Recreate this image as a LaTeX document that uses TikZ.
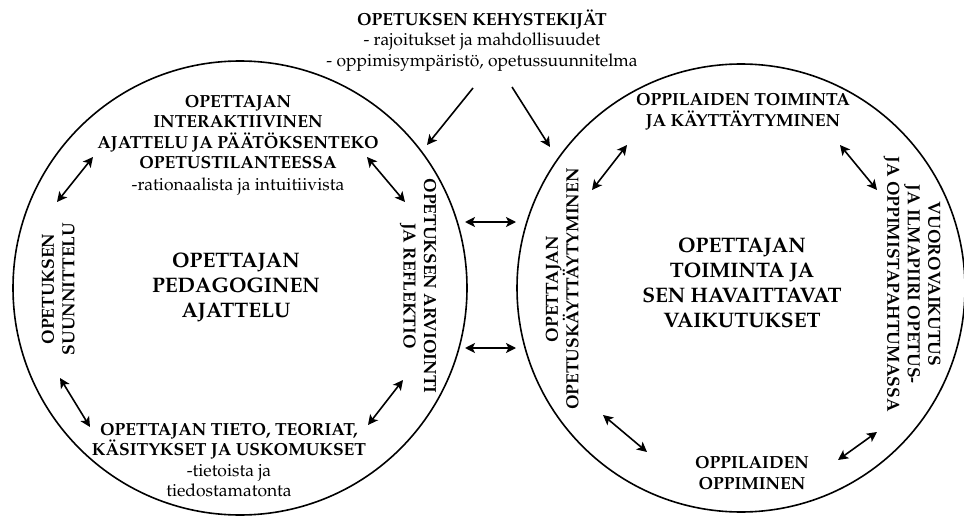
\documentclass[tikz,border=0pt]{standalone}
\usepackage[T1]{fontenc}
\usepackage{mathpazo}
\usetikzlibrary{arrows.meta}
\tikzset{
  ring/.style={circle, draw, line width=1.6pt, inner sep=0pt},
  bt/.style={align=center, inner sep=0pt, font=\fontsize{17.5}{20.5}\selectfont\bfseries},
  bigt/.style={align=center, inner sep=0pt, font=\fontsize{21}{25}\selectfont\bfseries},
  tip/.tip={Stealth[length=10pt,width=10pt,inset=2.5pt]},
  dbl/.style={line width=1.6pt, tip-tip},
  sgl/.style={line width=1.6pt, -tip}
}
\begin{document}
\begin{tikzpicture}[x=1pt,y=-1pt]
\useasboundingbox (0,0) rectangle (964,516);
% circles
\node[ring, minimum size=454pt] (lc) at (240,288) {};
\node[ring, minimum size=448pt] (rc) at (741,288) {};
% top text
\node[bt] (top) at (482,40.5) {OPETUKSEN KEHYSTEKIJÄT\\{\mdseries - rajoitukset ja mahdollisuudet}\\{\mdseries - oppimisympäristö, opetussuunnitelma}};
% left circle texts
\node[bt] (ltop) at (238,145) {OPETTAJAN\\INTERAKTIIVINEN\\AJATTELU JA PÄÄTÖKSENTEKO\\OPETUSTILANTEESSA\\[1pt]{\mdseries -rationaalista ja intuitiivista}};
\node[bt, rotate=90] (lleft) at (58,289) {OPETUKSEN\\SUUNNITTELU};
\node[bt, rotate=-90] (lright) at (418,286) {OPETUKSEN ARVIOINTI\\JA REFLEKTIO};
\node[bigt] (lmid) at (236,287) {OPETTAJAN\\PEDAGOGINEN\\AJATTELU};
\node[bt] (lbot) at (229,460) {OPETTAJAN TIETO, TEORIAT,\\KÄSITYKSET JA USKOMUKSET\\{\mdseries -tietoista ja}\\{\mdseries tiedostamatonta}};
% right circle texts
\node[bt] (rtop) at (743,112) {OPPILAIDEN TOIMINTA\\JA KÄYTTÄYTYMINEN};
\node[bt, rotate=90] (rleft) at (562,289) {OPETTAJAN\\OPETUSKÄYTTÄYTYMINEN};
\node[bt, rotate=-90] (rright) at (912,284) {VUOROVAIKUTUS\\JA ILMAPIIRI OPETUS-\\JA OPPIMISTAPAHTUMASSA};
\node[bigt] (rmid) at (742,283) {OPETTAJAN\\TOIMINTA JA\\SEN HAVAITTAVAT\\VAIKUTUKSET};
\node[bt] (rbot) at (752,473) {OPPILAIDEN\\OPPIMINEN};
% arrow end points
\coordinate (a1s) at (57,202);  \coordinate (a1e) at (93,157);
\coordinate (a2s) at (367,157); \coordinate (a2e) at (405,202);
\coordinate (a3s) at (60,378);  \coordinate (a3e) at (90,427);
\coordinate (a4s) at (403,380); \coordinate (a4e) at (368,425);
\coordinate (b1s) at (592,190); \coordinate (b1e) at (627,145);
\coordinate (b2s) at (840,145); \coordinate (b2e) at (877,190);
\coordinate (b3s) at (603,415); \coordinate (b3e) at (647,452);
\coordinate (b4s) at (877,432); \coordinate (b4e) at (838,460);
\coordinate (m1s) at (465,222); \coordinate (m1e) at (516,222);
\coordinate (m2s) at (465,348); \coordinate (m2e) at (516,348);
\coordinate (t1s) at (473,88);  \coordinate (t1e) at (427,145);
\coordinate (t2s) at (512,87);  \coordinate (t2e) at (550,147);
\draw[dbl] (a1s) -- (a1e);
\draw[dbl] (a2s) -- (a2e);
\draw[dbl] (a3s) -- (a3e);
\draw[dbl] (a4s) -- (a4e);
\draw[dbl] (b1s) -- (b1e);
\draw[dbl] (b2s) -- (b2e);
\draw[dbl] (b3s) -- (b3e);
\draw[dbl] (b4s) -- (b4e);
\draw[dbl] (m1s) -- (m1e);
\draw[dbl] (m2s) -- (m2e);
\draw[sgl] (t1s) -- (t1e);
\draw[sgl] (t2s) -- (t2e);
\end{tikzpicture}
\end{document}
